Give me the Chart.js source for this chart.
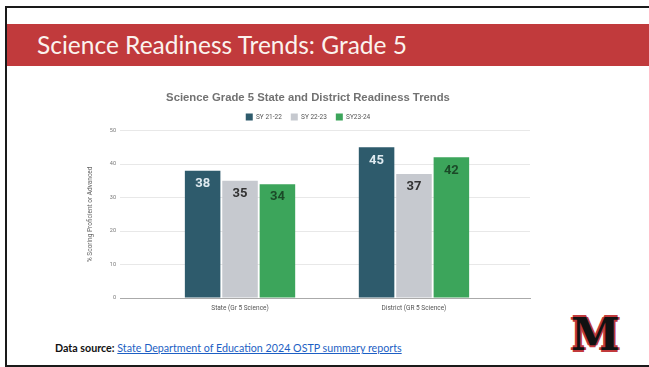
<!DOCTYPE html>
<html>
<head>
<meta charset="utf-8">
<script src="https://cdn.jsdelivr.net/npm/chart.js@4.4.1/dist/chart.umd.min.js"></script>
<style>
  html, body { margin: 0; padding: 0; background: #fff; }
  body { width: 649px; height: 367px; position: relative; overflow: hidden; }
  .frame { position: absolute; left: 5px; top: 6px; width: 700px; height: 357px; border: 2px solid #1a1a1a; background: #fff; }
  .banner { position: absolute; left: 7px; top: 24px; width: 642px; height: 42px; background: #c13a3c; }
  .banner h1 { margin: 0; position: absolute; left: 30px; top: 6px; font: 24.5px "Lato", sans-serif; color: #fbf3ee; white-space: nowrap; }
  .source { position: absolute; left: 55px; top: 341px; font: 10.7px "Lato", sans-serif; color: #111; white-space: nowrap; }
  .source b { font-weight: 700; }
  .source a { color: #1d5fc4; text-decoration: underline; }
  .logo { position: absolute; left: 571px; top: 311px; font: bold 44px "DejaVu Serif", serif; color: #111;
          text-shadow: 2px 0 #c13a3c, -2px 0 #c13a3c, 0 2px #c13a3c, 0 -2px #c13a3c; line-height: 48px; }
  #chart { position: absolute; left: 0; top: 0; }
</style>
</head>
<body>
<div class="frame"></div>
<div class="banner"><h1>Science Readiness Trends: Grade 5</h1></div>
<div class="source"><b>Data source:</b> <a href="#">State Department of Education 2024 OSTP summary reports</a></div>
<div class="logo">M</div>
<canvas id="chart" width="649" height="367"></canvas>
<script>
// categories and series
const groups = ['State (Gr 5 Science)', 'District (GR 5 Science)'];
const groupPos = [0, 1];
const seriesNames = ['SY 21-22', 'SY 22-23', 'SY23-24'];
const sy2122 = [38, 45];
const sy2223 = [35, 37];
const sy2324 = [34, 42];
const yTicks = [0, 10, 20, 30, 40, 50];

const colors = ['#2e5b6c', '#c6c9cf', '#3ca55b'];
const labelColors = ['#dfeaf0', '#333333', '#1b4a28'];

function toPoints(vals) {
  return vals.map((v, i) => ({ x: groupPos[i], y: v }));
}

// value labels inside the top of each bar
const barLabels = {
  id: 'barLabels',
  afterDatasetsDraw(chart) {
    const ctx = chart.ctx;
    ctx.save();
    ctx.font = 'bold 13px Roboto, sans-serif';
    ctx.textAlign = 'center';
    ctx.textBaseline = 'middle';
    chart.data.datasets.forEach((ds, di) => {
      chart.getDatasetMeta(di).data.forEach((bar, i) => {
        ctx.fillStyle = labelColors[di];
        ctx.fillText(ds.data[i].y, bar.x, bar.y + 13);
      });
    });
    ctx.restore();
  }
};

new Chart(document.getElementById('chart'), {
  type: 'bar',
  data: {
    datasets: [
      { label: seriesNames[0], data: toPoints(sy2122), backgroundColor: colors[0] },
      { label: seriesNames[1], data: toPoints(sy2223), backgroundColor: colors[1] },
      { label: seriesNames[2], data: toPoints(sy2324), backgroundColor: colors[2] }
    ]
  },
  options: {
    responsive: false,
    animation: false,
    categoryPercentage: 0.645,
    barPercentage: 0.95,
    layout: { padding: { left: 86, right: 119, top: 91, bottom: 49 } },
    plugins: {
      title: {
        display: true,
        text: 'Science Grade 5 State and District Readiness Trends',
        color: '#727272',
        font: { family: 'Liberation Sans', size: 11.3, weight: 'bold' },
        padding: { top: 0, bottom: 0 }
      },
      legend: {
        display: true,
        labels: {
          boxWidth: 7, boxHeight: 7, padding: 9,
          color: '#555', font: { family: 'Roboto', size: 6.5 }
        }
      },
      tooltip: { enabled: false }
    },
    scales: {
      x: {
        type: 'linear',
        offset: false,
        min: -0.69,
        max: 1.667,
        grid: { display: false, drawTicks: false },
        border: { color: '#aaa' },
        ticks: {
          stepSize: 1,
          includeBounds: false,
          color: '#555',
          font: { family: 'Roboto', size: 6.5 },
          padding: 6,
          callback: (v) => Number.isInteger(v) && groups[v] !== undefined ? groups[v] : ''
        },
        afterFit: (s) => { s.height = 20; }
      },
      y: {
        min: 0,
        max: 50,
        afterBuildTicks: (s) => { s.ticks = yTicks.map(v => ({ value: v })); },
        grid: { color: '#e8e8e8', drawTicks: false },
        border: { display: false },
        ticks: { color: '#777', font: { family: 'Roboto', size: 5.5 }, padding: 4 },
        title: {
          display: true,
          text: '% Scoring Proficient or Advanced',
          color: '#666',
          font: { family: 'Roboto', size: 6.5 },
          padding: 0
        },
        afterFit: (s) => { s.width = 34; }
      }
    }
  },
  plugins: [barLabels]
});
</script>
</body>
</html>
